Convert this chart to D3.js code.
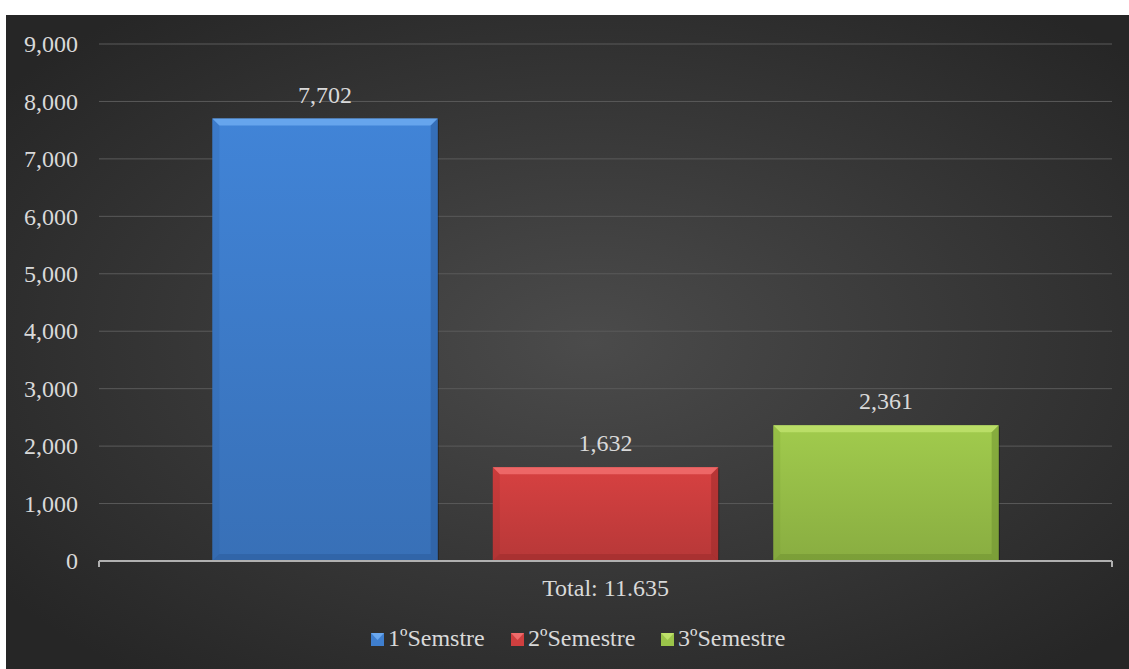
<!DOCTYPE html>
<html><head><meta charset="utf-8">
<script src="https://cdn.jsdelivr.net/npm/d3@7"></script>
<style>html,body{margin:0;padding:0;background:#fff;}svg{display:block;}</style>
</head><body>
<svg id="c" width="1129" height="669"></svg>
<script>
const categories = ["Total: 11.635"];
const seriesNames = ["1ºSemstre", "2ºSemestre", "3ºSemestre"];
const seriesValues = [7702, 1632, 2361];
const yTicks = [0, 1000, 2000, 3000, 4000, 5000, 6000, 7000, 8000, 9000];
const seriesColors = ["#3f7fcf", "#cf3f3f", "#9bc44a"];
const seriesLight = ["#6aa8ef", "#ef6b6b", "#bde06a"];
const seriesDark = ["#2a5a9a", "#9a2a2a", "#6e9030"];

const svg = d3.select("#c");
const W = 1129, H = 669;
const defs = svg.append("defs");
const bg = defs.append("radialGradient").attr("id","bg").attr("cx","52%").attr("cy","50%").attr("r","65%");
bg.append("stop").attr("offset","0%").attr("stop-color","#4b4b4b");
bg.append("stop").attr("offset","100%").attr("stop-color","#262626");
svg.append("rect").attr("x",6).attr("y",15).attr("width",W-6).attr("height",H-15).attr("fill","url(#bg)");

seriesColors.forEach((c,i)=>{
  const g = defs.append("linearGradient").attr("id","bar"+i).attr("x1",0).attr("y1",0).attr("x2",0).attr("y2",1);
  g.append("stop").attr("offset","0%").attr("stop-color",d3.color(c).brighter(0.1));
  g.append("stop").attr("offset","100%").attr("stop-color",d3.color(c).darker(0.35));
});

const plotL = 99, plotR = 1112;
const y = d3.scaleLinear().domain([0, 9000]).range([561, 44]);
const x0 = d3.scaleBand().domain(categories).range([plotL, plotR]).paddingInner(0).paddingOuter(0);
const x1 = d3.scaleBand().domain(seriesNames).range([0, x0.bandwidth()]).paddingInner(0.1964).paddingOuter(0.404);

const font = "'Liberation Serif','Times New Roman',serif";
const txt = "#d9d9d9";
const fs = 24;

// gridlines
svg.append("g").selectAll("line").data(yTicks.filter(t=>t>0)).join("line")
  .attr("x1",plotL).attr("x2",plotR).attr("y1",d=>y(d)).attr("y2",d=>y(d))
  .attr("stroke","#5a5a5a").attr("stroke-width",1);

// y axis labels
const yAxis = d3.axisLeft(y).tickValues(yTicks).tickFormat(d3.format(",")).tickSize(0).tickPadding(21);
const ga = svg.append("g").attr("transform",`translate(${plotL},0)`).call(yAxis);
ga.select(".domain").remove();
ga.selectAll("text").attr("font-family",font).attr("font-size",fs).attr("fill",txt);

// bars
const bars = svg.append("g");
seriesNames.forEach((s,i)=>{
  const v = seriesValues[i];
  const bx = x0(categories[0]) + x1(s), bw = x1.bandwidth();
  const by = y(v), bh = y(0) - y(v);
  const b = 7;
  const g = bars.append("g");
  g.append("rect").attr("x",bx+1).attr("y",by+1).attr("width",bw).attr("height",bh).attr("fill","#000").attr("opacity",0.35);
  g.append("rect").attr("x",bx).attr("y",by).attr("width",bw).attr("height",bh).attr("fill",`url(#bar${i})`);
  g.append("path").attr("d",`M${bx},${by}L${bx+bw},${by}L${bx+bw-b},${by+b}L${bx+b},${by+b}Z`).attr("fill",seriesLight[i]).attr("opacity",0.9);
  g.append("path").attr("d",`M${bx},${by}L${bx+b},${by+b}L${bx+b},${by+bh-b}L${bx},${by+bh}Z`).attr("fill",seriesDark[i]).attr("opacity",0.2);
  g.append("path").attr("d",`M${bx+bw},${by}L${bx+bw-b},${by+b}L${bx+bw-b},${by+bh-b}L${bx+bw},${by+bh}Z`).attr("fill",seriesDark[i]).attr("opacity",0.5);
  g.append("path").attr("d",`M${bx},${by+bh}L${bx+b},${by+bh-b}L${bx+bw-b},${by+bh-b}L${bx+bw},${by+bh}Z`).attr("fill",seriesDark[i]).attr("opacity",0.5);
  svg.append("text").attr("x",bx+bw/2).attr("y",by-16).attr("text-anchor","middle")
    .attr("font-family",font).attr("font-size",fs).attr("fill",txt).text(d3.format(",")(v));
});

// x axis
const xAxis = d3.axisBottom(x0).tickSize(0).tickPadding(0);
svg.append("line").attr("x1",plotL).attr("x2",plotR).attr("y1",y(0)).attr("y2",y(0)).attr("stroke","#b0b0b0").attr("stroke-width",2);
[plotL, plotR].forEach(px=>svg.append("line").attr("x1",px).attr("x2",px).attr("y1",y(0)).attr("y2",y(0)+6).attr("stroke","#b0b0b0").attr("stroke-width",2));
const gx = svg.append("g").attr("transform",`translate(0,${y(0)})`).call(xAxis);
gx.select(".domain").remove();
gx.selectAll("text").attr("font-family",font).attr("font-size",fs).attr("fill",txt).attr("dy",0).attr("y",35);

// legend
const leg = svg.append("g");
const legX = [371, 511, 661];
seriesNames.forEach((s,i)=>{
  const lx = legX[i], ly = 646;
  leg.append("rect").attr("x",lx).attr("y",ly-13).attr("width",13).attr("height",13).attr("fill",seriesColors[i]);
  leg.append("path").attr("d",`M${lx},${ly-13}L${lx+13},${ly-13}L${lx+6.5},${ly-6}Z`).attr("fill",seriesLight[i]);
  leg.append("text").attr("x",lx+17).attr("y",ly).attr("font-family",font).attr("font-size",fs).attr("fill",txt).text(s);
});
</script>
</body></html>
